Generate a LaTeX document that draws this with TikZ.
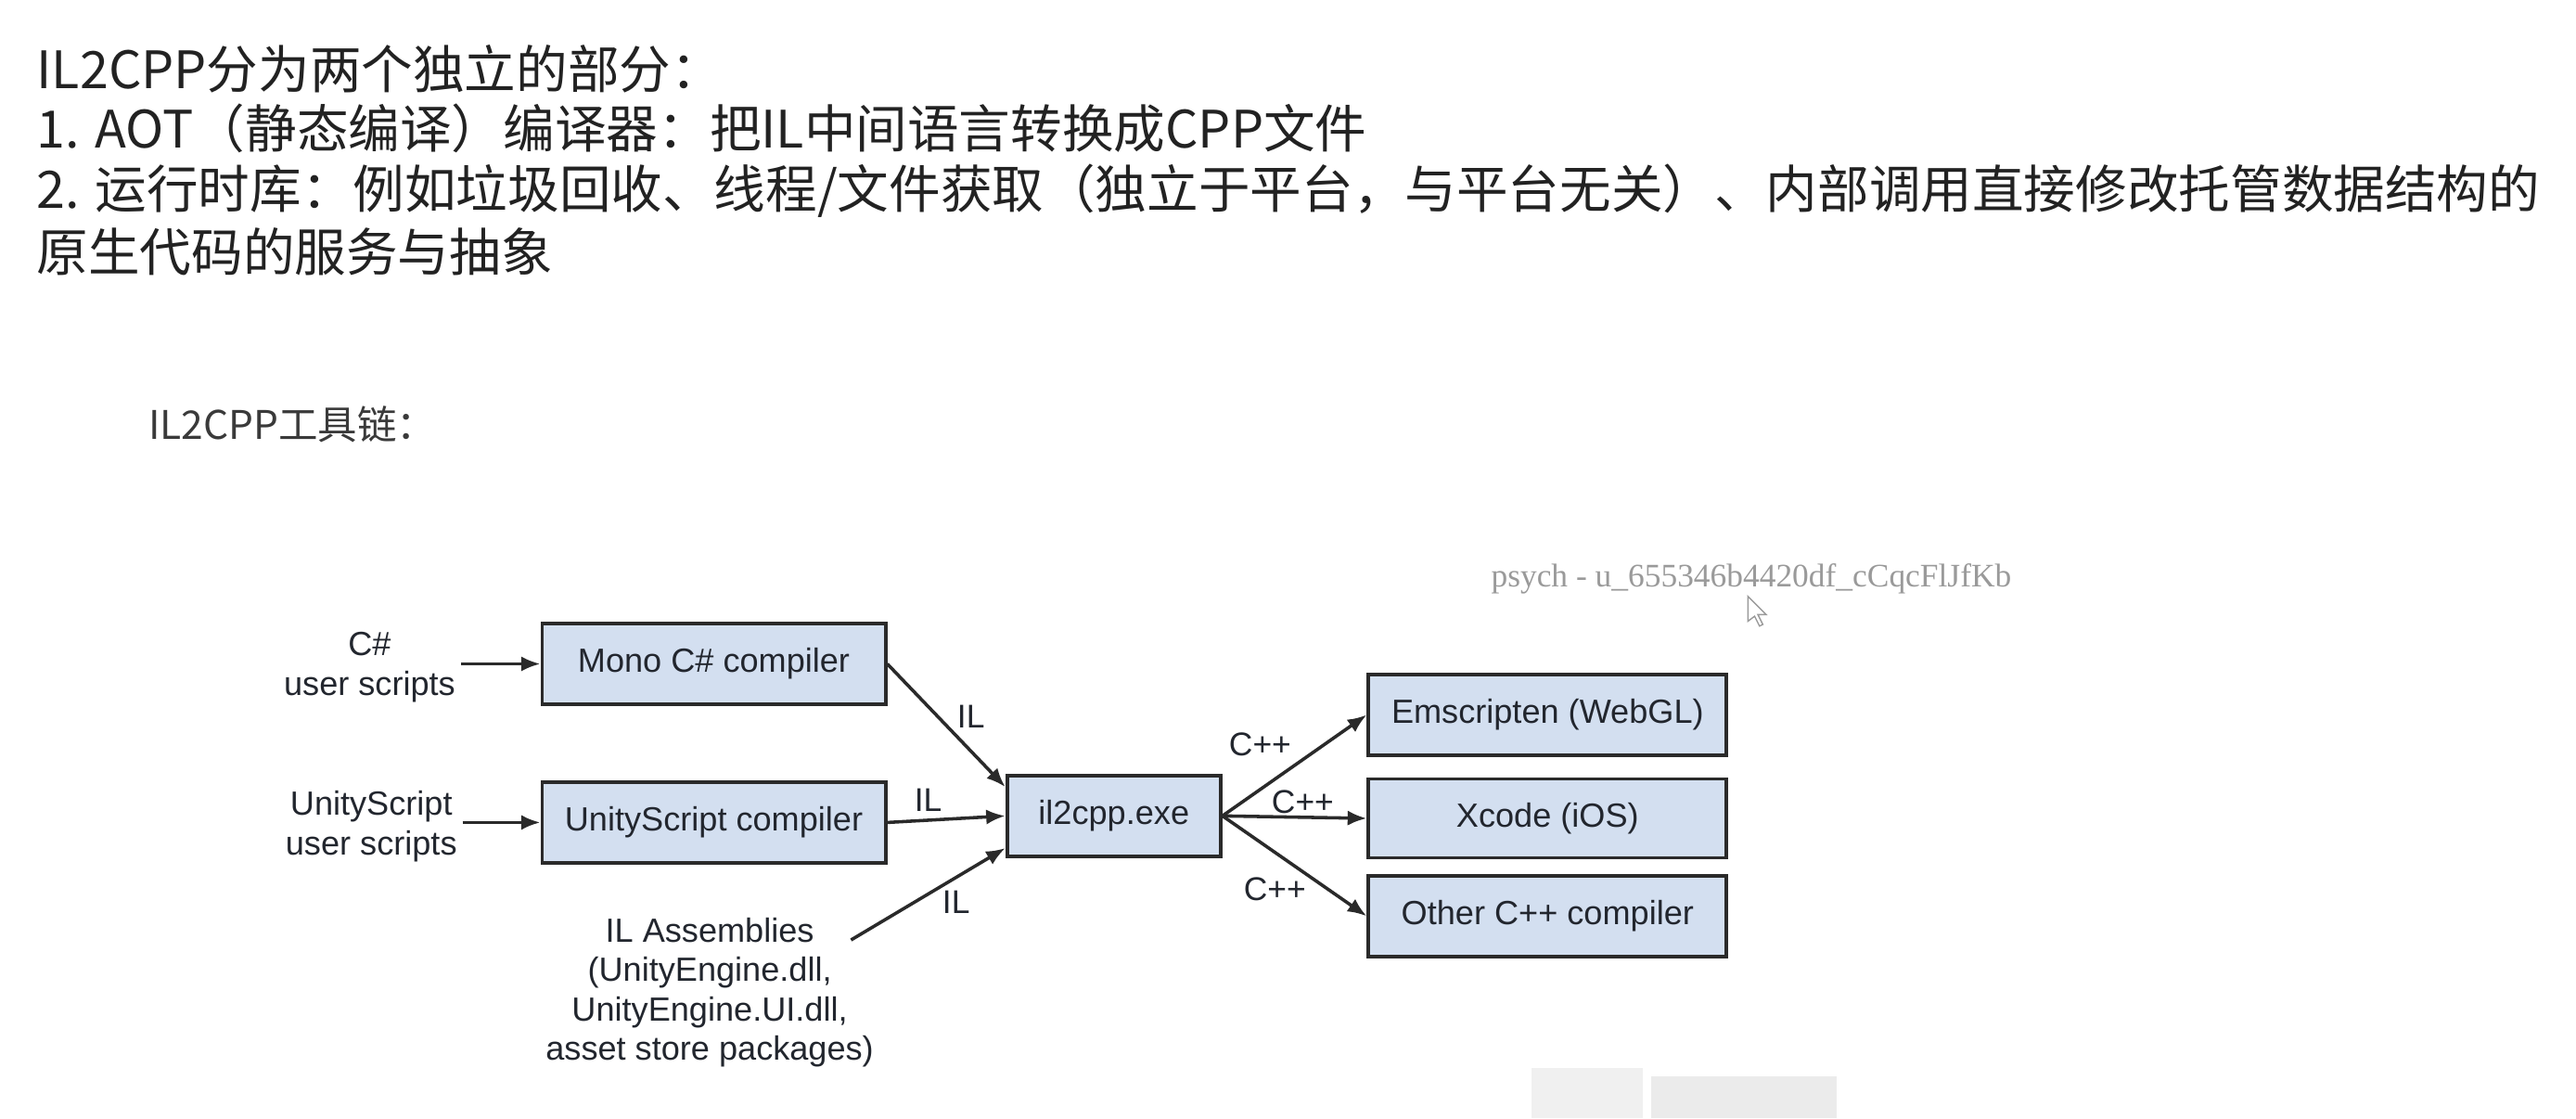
\documentclass[tikz,border=0pt]{standalone}
\usepackage{fontspec}
\setmainfont{Liberation Sans}
\newfontfamily\cjk{Noto Sans CJK SC}
\newfontfamily\wmfont{Liberation Serif}
\usetikzlibrary{arrows.meta}
\definecolor{boxfill}{HTML}{D3DFF0}
\definecolor{boxline}{HTML}{2A2A2A}
\definecolor{txt}{HTML}{22262E}
\definecolor{toptxt}{HTML}{222222}
\definecolor{headtxt}{HTML}{3A3A3A}
\definecolor{wmcol}{HTML}{9A9A9A}
\begin{document}
\begin{tikzpicture}[x=0.5pt,y=-0.5pt,
  box/.style={draw=boxline, line width=1.1pt, fill=boxfill, minimum height=24.5pt,
    inner sep=0pt, font=\fontsize{10.2}{12}\selectfont, text=txt},
  srctext/.style={align=center, inner sep=1.5pt, font=\fontsize{10.2}{12}\selectfont, text=txt},
  lbl/.style={inner sep=0pt, font=\fontsize{10}{12}\selectfont, text=txt},
  arr/.style={-{Latex[length=5.8pt,width=4.6pt]}, line width=1pt, draw=boxline},
  topline/.style={anchor=west, inner sep=0pt, font=\cjk\fontsize{15.7}{18}\selectfont, text=toptxt}]
\useasboundingbox (0,0) rectangle (1568,680.4);
\fill[white] (0,0) rectangle (1568,680.4);
% top text
\node[topline] (t1) at (22,42) {IL2CPP分为两个独立的部分：};
\node[topline] (t2) at (22,78) {1. AOT（静态编译）编译器：把IL中间语言转换成CPP文件};
\node[topline] (t3) at (22,116) {2. 运行时库：例如垃圾回收、线程/文件获取（独立于平台，与平台无关）、内部调用直接修改托管数据结构的};
\node[topline] (t4) at (22,153) {原生代码的服务与抽象};
\node[anchor=west, inner sep=0pt, font=\cjk\fontsize{12}{14}\selectfont, text=headtxt] (head) at (90,258) {IL2CPP工具链：};
% watermark
\node[inner sep=0pt, font=\wmfont\fontsize{10}{12}\selectfont, text=wmcol] (wm) at (1066,352) {psych - u\_655346b4420df\_cCqcFlJfKb};
\draw[wmcol, fill=white, line width=0.4pt] (1064,363) -- (1064,378) -- (1068,375) -- (1071,381) -- (1073,380) -- (1070,374) -- (1075,374) -- cycle;
% faint blurred shapes at bottom
\fill[black!6] (932,650) rectangle (1000,680.4);
\fill[black!8] (1005,655) rectangle (1118,680.4);
% boxes
\node[box, minimum width=104.5pt] (mono) at (434.5,404) {Mono C\# compiler};
\node[box, minimum width=104.5pt] (us) at (434.5,500.5) {UnityScript compiler};
\node[box, minimum width=65pt] (il2cpp) at (678,496.5) {il2cpp.exe};
\node[box, minimum width=109pt] (emsc) at (942,435) {Emscripten (WebGL)};
\node[box, minimum width=109pt, minimum height=24pt] (xcode) at (942,498) {Xcode (iOS)};
\node[box, minimum width=109pt] (other) at (942,557.5) {Other C++ compiler};
% sources
\node[srctext] (cs) at (225,406) {C\#\\user scripts};
\node[srctext] (uss) at (226,503) {UnityScript\\user scripts};
\node[srctext] (ila) at (432,604) {IL Assemblies\\(UnityEngine.dll,\\UnityEngine.UI.dll,\\asset store packages)};
\coordinate (ilaout) at (518,572);
% arrows
\draw[arr] (cs.east |- mono.west) -- (mono.west);
\draw[arr] (uss.east |- us.west) -- (us.west);
\draw[arr] (mono.east) -- ([yshift=-4pt]il2cpp.north west);
\draw[arr] (us.east) -- (il2cpp.west);
\draw[arr] (ilaout) -- ([yshift=3pt]il2cpp.south west);
\draw[arr] (il2cpp.east) -- (emsc.west);
\draw[arr] (il2cpp.east) -- (xcode.west);
\draw[arr] (il2cpp.east) -- (other.west);
% labels
\node[lbl] (l1) at (591,436) {IL};
\node[lbl] (l2) at (565,487) {IL};
\node[lbl] (l3) at (582,549) {IL};
\node[lbl] (c1) at (767,453) {C++};
\node[lbl] (c2) at (793,488) {C++};
\node[lbl] (c3) at (776,541) {C++};
\end{tikzpicture}
\end{document}
